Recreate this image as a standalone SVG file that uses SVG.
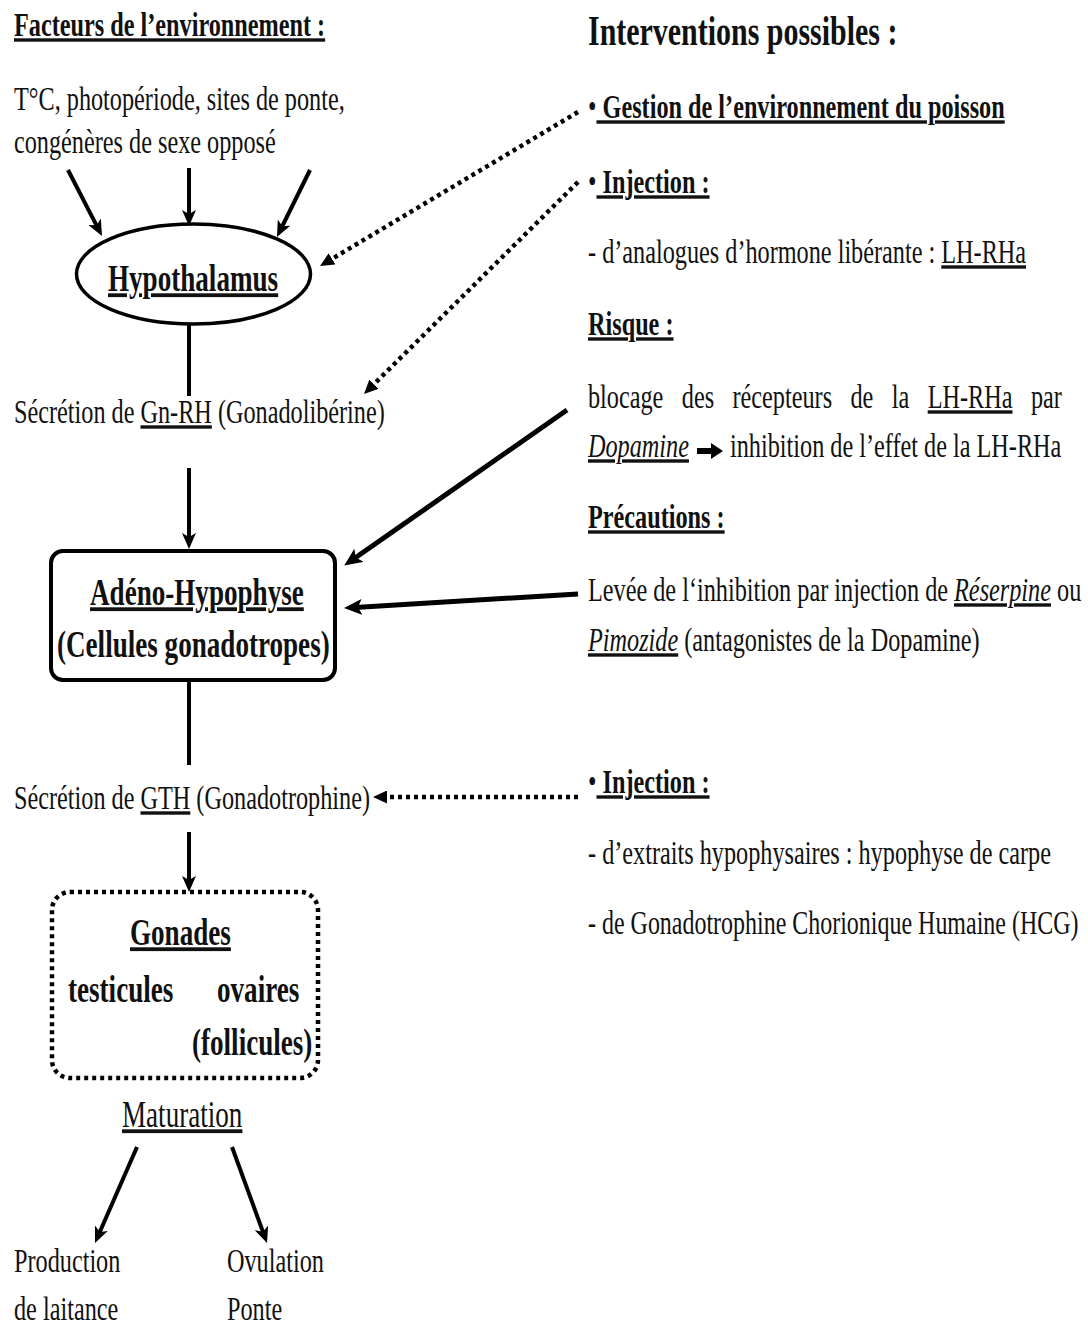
<svg xmlns="http://www.w3.org/2000/svg" width="1088" height="1327" viewBox="0 0 1088 1327">
<style>
text{font-family:"Liberation Serif","Times New Roman",serif;fill:#111;font-size:34px;}
.bd{font-weight:bold;}
.big{font-size:38px;font-weight:bold;}
.u{text-decoration:underline;}
.i{font-style:italic;}
.nb{font-weight:normal;text-decoration:none;}
.shape{fill:none;stroke:#000;}
.solid{stroke:#000;stroke-width:4;fill:none;}
.thick{stroke:#000;stroke-width:5;fill:none;}
.dot{stroke:#000;stroke-width:4.5;stroke-dasharray:4 4;fill:none;}
</style>
<defs>
<marker id="ah" viewBox="0 0 16 14" refX="6" refY="7" markerWidth="16" markerHeight="14" markerUnits="userSpaceOnUse" orient="auto">
<path d="M0,0 L16,7 L0,14 L4,7 z" fill="#000"/>
</marker>
<marker id="ahb" viewBox="0 0 18 16" refX="7" refY="8" markerWidth="18" markerHeight="16" markerUnits="userSpaceOnUse" orient="auto">
<path d="M0,0 L18,8 L0,16 L4,8 z" fill="#000"/>
</marker>
<marker id="ahd" viewBox="0 0 14 13" refX="4" refY="6.5" markerWidth="14" markerHeight="13" markerUnits="userSpaceOnUse" orient="auto">
<path d="M0,0 L14,6.5 L0,13 z" fill="#000"/>
</marker>
</defs>
<rect width="1088" height="1327" fill="#fff"/>

<g id="env">
<text transform="translate(14,36) scale(0.713,1)" class="bd u">Facteurs de l’environnement :</text>
<text transform="translate(14,110) scale(0.713,1)">T°C, photopériode, sites de ponte,</text>
<text transform="translate(14,153) scale(0.713,1)">congénères de sexe opposé</text>
</g>

<g id="hypothalamus">
<ellipse cx="193.5" cy="274" rx="117" ry="50" class="shape" stroke-width="3.5"/>
<text transform="translate(108,291) scale(0.713,1)" class="big u">Hypothalamus</text>
</g>

<g id="gnrh">
<text transform="translate(14,423) scale(0.713,1)">Sécrétion de <tspan class="u">Gn-RH</tspan> (Gonadolibérine)</text>
</g>

<g id="adeno">
<rect x="51" y="551" width="284" height="129" rx="12" class="shape" stroke-width="4"/>
<text transform="translate(90,605) scale(0.713,1)" class="big u">Adéno-Hypophyse</text>
<text transform="translate(57,657) scale(0.713,1)" class="big">(Cellules gonadotropes)</text>
</g>

<g id="gth">
<text transform="translate(14,809) scale(0.713,1)">Sécrétion de <tspan class="u">GTH</tspan> (Gonadotrophine)</text>
</g>

<g id="gonades">
<rect x="52" y="892" width="266" height="186" rx="18" class="dot"/>
<text transform="translate(130,945) scale(0.713,1)" class="big u">Gonades</text>
<text transform="translate(68,1002) scale(0.713,1)" class="big">testicules</text>
<text transform="translate(217,1002) scale(0.713,1)" class="big">ovaires</text>
<text transform="translate(192,1055) scale(0.713,1)" class="big">(follicules)</text>
</g>

<g id="maturation">
<text transform="translate(122,1127) scale(0.713,1)" style="font-size:38px" class="u">Maturation</text>
</g>

<g id="production">
<text transform="translate(14,1272) scale(0.713,1)">Production</text>
<text transform="translate(14,1320) scale(0.713,1)">de laitance</text>
</g>

<g id="ovulation">
<text transform="translate(227,1272) scale(0.713,1)">Ovulation</text>
<text transform="translate(227,1320) scale(0.713,1)">Ponte</text>
</g>

<g id="interventions">
<text transform="translate(588,45) scale(0.713,1)" style="font-size:42px" class="bd">Interventions possibles :</text>
</g>

<g id="gestion">
<text transform="translate(588,118) scale(0.713,1)" class="bd"><tspan class="nb">•</tspan><tspan class="u"> Gestion de l’environnement du poisson</tspan></text>
</g>

<g id="injection1">
<text transform="translate(588,193) scale(0.713,1)" class="bd"><tspan class="nb">•</tspan><tspan class="u"> Injection :</tspan></text>
<text transform="translate(588,263) scale(0.713,1)">- d’analogues d’hormone libérante : <tspan class="u">LH-RHa</tspan></text>
</g>

<g id="risque">
<text transform="translate(588,335) scale(0.713,1)" class="bd u">Risque :</text>
<text transform="translate(588,408) scale(0.713,1)">blocage</text>
<text transform="translate(681.8,408) scale(0.713,1)">des</text>
<text transform="translate(732.5,408) scale(0.713,1)">récepteurs</text>
<text transform="translate(850.5,408) scale(0.713,1)">de</text>
<text transform="translate(891.8,408) scale(0.713,1)">la</text>
<text transform="translate(927.7,408) scale(0.713,1)" class="u">LH-RHa</text>
<text transform="translate(1030.9,408) scale(0.713,1)">par</text>
<text transform="translate(588,457) scale(0.713,1)" class="i u">Dopamine</text>
<path d="M697,448 L711,448 L711,443 L723,451 L711,459 L711,454 L697,454 z" fill="#000"/>
<text transform="translate(730,457) scale(0.713,1)">inhibition de l’effet de la LH-RHa</text>
</g>

<g id="precautions">
<text transform="translate(588,528) scale(0.713,1)" class="bd u">Précautions :</text>
<text transform="translate(588,601) scale(0.713,1)">Levée de l‘inhibition par injection de <tspan class="i u">Réserpine</tspan> ou</text>
<text transform="translate(588,651) scale(0.713,1)"><tspan class="i u">Pimozide</tspan> (antagonistes de la Dopamine)</text>
</g>

<g id="injection2">
<text transform="translate(588,793) scale(0.713,1)" class="bd"><tspan class="nb">•</tspan><tspan class="u"> Injection :</tspan></text>
<text transform="translate(588,864) scale(0.713,1)">- d’extraits hypophysaires : hypophyse de carpe</text>
<text transform="translate(588,934) scale(0.705,1)">- de Gonadotrophine Chorionique Humaine (HCG)</text>
</g>

<g id="connectors">
<line x1="68" y1="170" x2="97.4" y2="227.1" class="solid" marker-end="url(#ah)"/>
<line x1="189" y1="168" x2="189" y2="216" class="solid" marker-end="url(#ah)"/>
<line x1="310" y1="170" x2="281.4" y2="228" class="solid" marker-end="url(#ah)"/>
<line x1="189" y1="325" x2="189" y2="396" class="solid"/>
<line x1="189" y1="468" x2="189" y2="539" class="solid" marker-end="url(#ah)"/>
<line x1="189" y1="681" x2="189" y2="765" class="solid"/>
<line x1="189" y1="832" x2="189" y2="882" class="solid" marker-end="url(#ah)"/>
<line x1="137" y1="1147" x2="99" y2="1233.8" class="solid" marker-end="url(#ah)"/>
<line x1="232" y1="1147" x2="263.6" y2="1233.6" class="solid" marker-end="url(#ah)"/>
<line x1="578" y1="112" x2="328.6" y2="260.9" class="dot" marker-end="url(#ahd)"/>
<line x1="578" y1="182" x2="371.1" y2="387" class="dot" marker-end="url(#ahd)"/>
<line x1="567" y1="410" x2="353.2" y2="559.3" class="thick" marker-end="url(#ahb)"/>
<line x1="578" y1="594" x2="355" y2="607.4" class="thick" marker-end="url(#ahb)"/>
<line x1="578" y1="797" x2="383" y2="797" class="dot" marker-end="url(#ahd)"/>
</g>
</svg>
